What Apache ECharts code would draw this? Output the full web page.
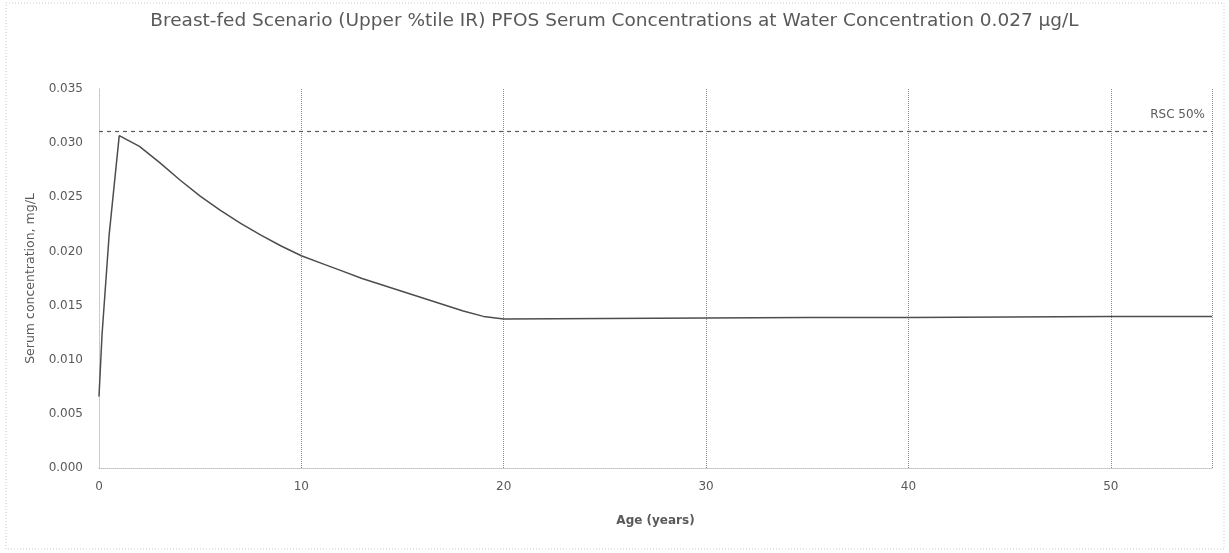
<!DOCTYPE html>
<html>
<head>
<meta charset="utf-8">
<script src="https://cdn.jsdelivr.net/npm/echarts@6/dist/echarts.min.js"></script>
<style>
  html, body { margin: 0; padding: 0; background: #fff; }
  #chart-container { width: 1229px; height: 553px; }
</style>
</head>
<body>
<div id="chart-container"></div>
<script>
// ages in years, serum concentration in mg/L
const ages = [0, 0.15, 0.5, 1, 2, 3, 4, 5, 6, 7, 8, 9, 10, 11, 12, 13, 14, 15, 16, 17, 18, 19, 20, 25, 30, 35, 40, 45, 50, 55];
const serum = [0.0066, 0.0123, 0.0215, 0.0307, 0.0297, 0.0282, 0.0266, 0.0251, 0.0238, 0.0226, 0.0215, 0.0205, 0.0196,
  0.0189, 0.0182, 0.0175, 0.0169, 0.0163, 0.0157, 0.0151, 0.0145, 0.0140, 0.01375, 0.0138, 0.01385, 0.0139, 0.0139, 0.01395, 0.0140, 0.0140];
const rscValue = 0.0311;
const rscLabel = "RSC 50%";
const xTicks = [0, 10, 20, 30, 40, 50];

const dom = document.getElementById("chart-container");
const myChart = echarts.init(dom, null, { renderer: "canvas" });

const font = "DejaVu Sans";
const grey = "#595959";

const option = {
  animation: false,
  backgroundColor: "#fff",
  title: {
    text: "Breast-fed Scenario (Upper %tile IR) PFOS Serum Concentrations at Water Concentration 0.027 µg/L",
    left: "center",
    top: 7,
    textStyle: { fontFamily: font, fontSize: 18.5, fontWeight: "normal", color: grey }
  },
  graphic: [
    {
      type: "rect",
      shape: { x: 6, y: 3, width: 1218, height: 546 },
      style: { fill: "none", stroke: "#c8c8c8", lineWidth: 1, lineDash: [1, 2] }
    }
  ],
  grid: { left: 99, right: 17, top: 89, bottom: 85 },
  xAxis: {
    type: "value",
    min: 0,
    max: 55,
    interval: 10,
    name: "Age (years)",
    nameLocation: "middle",
    nameGap: 47,
    nameTextStyle: { fontFamily: font, fontSize: 12, fontWeight: "bold", color: grey },
    axisLine: { show: true, lineStyle: { color: "#bfbfbf", type: "dotted" } },
    axisTick: { show: false },
    axisLabel: {
      fontFamily: font, fontSize: 12, color: grey, margin: 13,
      formatter: (v) => (xTicks.indexOf(v) >= 0 ? String(v) : "")
    },
    splitLine: { show: true, lineStyle: { color: "#8c8c8c", type: "dotted" } }
  },
  yAxis: {
    type: "value",
    min: 0,
    max: 0.035,
    interval: 0.005,
    name: "Serum concentration, mg/L",
    nameLocation: "middle",
    nameGap: 58,
    nameTextStyle: { fontFamily: font, fontSize: 12.5, color: grey },
    axisLine: { show: true, lineStyle: { color: "#bfbfbf", type: "dotted" } },
    axisTick: { show: false },
    axisLabel: {
      fontFamily: font, fontSize: 12, color: grey, margin: 16,
      formatter: (v) => v.toFixed(3)
    },
    splitLine: { show: false }
  },
  series: [
    {
      type: "line",
      data: ages.map((a, i) => [a, serum[i]]),
      showSymbol: false,
      lineStyle: { color: "#4d4d4d", width: 1.5 },
      markLine: {
        silent: true,
        symbol: "none",
        precision: 4,
        lineStyle: { color: "#595959", type: [4, 4], width: 1.2 },
        label: {
          position: "insideEndTop",
          formatter: rscLabel,
          fontFamily: font, fontSize: 12, color: grey, distance: [7, 10]
        },
        data: [{ yAxis: rscValue }]
      }
    }
  ]
};

myChart.setOption(option);
window.addEventListener("resize", myChart.resize);
</script>
</body>
</html>
